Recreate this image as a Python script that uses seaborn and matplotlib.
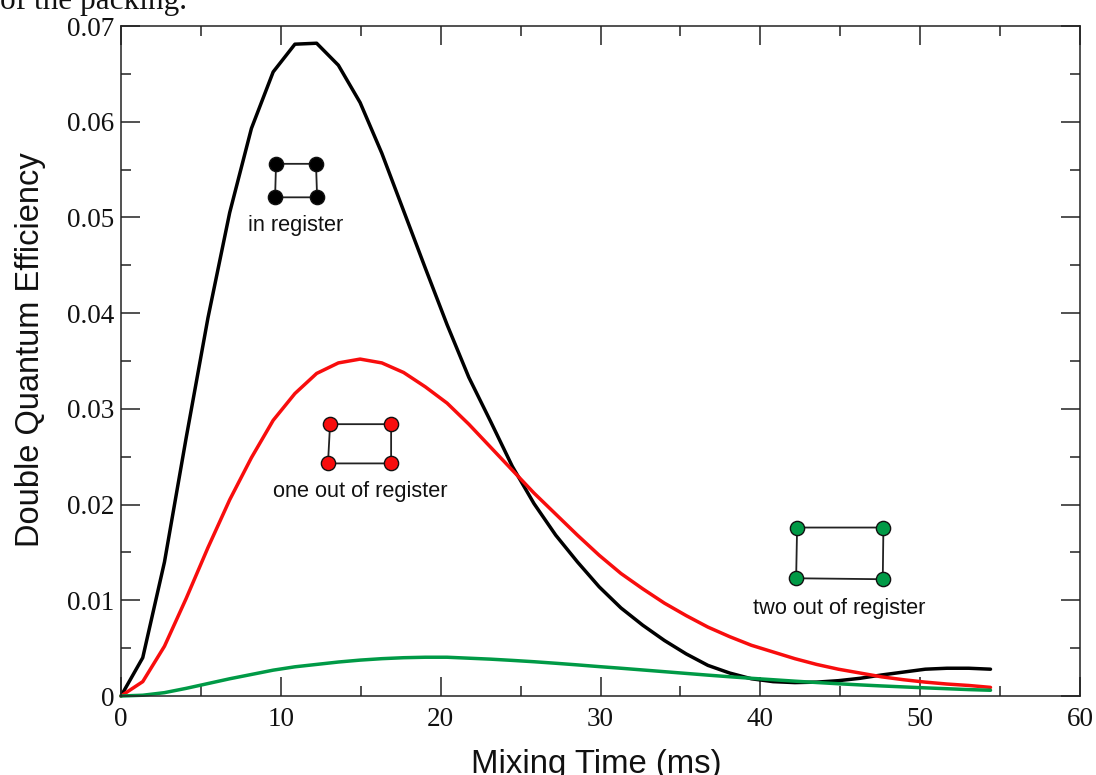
import matplotlib
matplotlib.use("Agg")
import matplotlib.pyplot as plt
import pandas as pd
import seaborn as sns
from matplotlib.ticker import MultipleLocator

# values
mix_time = [0, 1.36, 2.72, 4.08, 5.44, 6.8, 8.16, 9.52, 10.88, 12.24, 13.6, 14.96, 16.32, 17.68,
            19.04, 20.4, 21.76, 23.12, 24.48, 25.84, 27.2, 28.56, 29.92, 31.28, 32.64, 34, 35.36,
            36.72, 38.08, 39.44, 40.8, 42.16, 43.52, 44.88, 46.24, 47.6, 48.96, 50.32, 51.68,
            53.04, 54.4]
in_register = [0, .004, .014, .027, .0395, .0505, .0593, .0652, .0681, .0682, .0659, .062, .0567,
               .0507, .0447, .0388, .0333, .0287, .024, .0201, .0168, .014, .0114, .0092, .0074,
               .0058, .0044, .0032, .0024, .0018, .0015, .0014, .00145, .0016, .00185, .0022,
               .0025, .0028, .0029, .0029, .0028]
one_out = [0, .0015, .0052, .0102, .0155, .0205, .0249, .0288, .0316, .0337, .0348, .0352, .0348,
           .0338, .0323, .0306, .0284, .026, .0236, .0212, .019, .0168, .0147, .0128, .0112,
           .0097, .0084, .0072, .0062, .0053, .0046, .0039, .0033, .0028, .0024, .002, .0017,
           .00145, .00125, .0011, .0009]
two_out = [0, .00008, .00035, .0008, .0013, .0018, .00225, .0027, .00305, .0033, .00355, .00375,
           .0039, .004, .00405, .00405, .00395, .00385, .00372, .00358, .00342, .00325, .00307,
           .0029, .00272, .00254, .00236, .00218, .00201, .00185, .0017, .00155, .00141, .00128,
           .00116, .00105, .00095, .00085, .00076, .00067, .0006]

# little packing diagrams, corners in data units (going round the rectangle)
icon_black_x = [9.70, 12.2, 12.27, 9.64]
icon_black_y = [.0556, .0556, .0521, .0521]
icon_red_x = [13.08, 16.9, 16.9, 12.95]
icon_red_y = [.0284, .0284, .0243, .0243]
icon_green_x = [42.3, 47.7, 47.66, 42.24]
icon_green_y = [.0176, .0176, .0122, .0123]

BLACK = "#000000"
RED = "#f80d0d"
GREEN = "#009a46"

sns.set_theme(style="ticks")
plt.rcParams["font.family"] = ["Liberation Serif", "DejaVu Serif"]

fig = plt.figure(figsize=(10.96, 7.75), dpi=100)
ax = fig.add_axes([121 / 1096, 79 / 775, 959 / 1096, 670 / 775])

df = pd.DataFrame({"t": mix_time, "in": in_register, "one": one_out, "two": two_out})
for col, color in [("in", BLACK), ("one", RED), ("two", GREEN)]:
    sns.lineplot(data=df, x="t", y=col, color=color, lw=2.5, ax=ax, clip_on=False)

# packing icons
for xs, ys, color in [(icon_black_x, icon_black_y, BLACK),
                      (icon_red_x, icon_red_y, RED),
                      (icon_green_x, icon_green_y, GREEN)]:
    ax.plot(xs + xs[:1], ys + ys[:1], color="#222222", lw=1.3, zorder=4)
    sns.scatterplot(x=xs, y=ys, color=color, s=105, edgecolor="#111111", linewidth=1.0, ax=ax,
                    zorder=5)

ax.text(10.9, .0492, "in register", family="Liberation Sans", fontsize=15.7, ha="center", va="center", color="#111111")
ax.text(14.95, .0214, "one out of register", family="Liberation Sans", fontsize=15.7, ha="center", va="center", color="#111111")
ax.text(44.95, .0091, "two out of register", family="Liberation Sans", fontsize=15.7, ha="center", va="center", color="#111111")

ax.set_xlim(0, 60)
ax.set_ylim(0, .07)
ax.xaxis.set_major_locator(MultipleLocator(10))
ax.xaxis.set_minor_locator(MultipleLocator(5))
ax.yaxis.set_major_locator(MultipleLocator(.01))
ax.yaxis.set_minor_locator(MultipleLocator(.005))
ax.set_yticks([0, .01, .02, .03, .04, .05, .06, .07])
ax.set_yticklabels(["0", "0.01", "0.02", "0.03", "0.04", "0.05", "0.06", "0.07"])

ax.tick_params(which="major", direction="in", length=14, width=1.1, top=True, right=True,
               labelsize=19.5, pad=5, color="#222222", labelcolor="#111111")
ax.tick_params(axis="x", which="major", pad=8)
ax.tick_params(which="minor", direction="in", length=7, width=1.1, top=True, right=True,
               color="#222222")
for side in ax.spines.values():
    side.set_linewidth(1.1)
    side.set_color("#222222")

ax.set_xlabel("Mixing Time (ms)", family="Liberation Sans", fontsize=23.7, labelpad=12, color="#111111",
              x=.4953)
ax.set_ylabel("Double Quantum Efficiency", family="Liberation Sans", fontsize=23.5, labelpad=15, color="#111111",
              y=.517)

# tail of the page text above the figure, cut by the crop
fig.text(0.0, 1 - 9 / 775, "of the packing.", fontsize=22.5, va="baseline", ha="left", color="#111111")

fig.savefig("out.png", dpi=100)
